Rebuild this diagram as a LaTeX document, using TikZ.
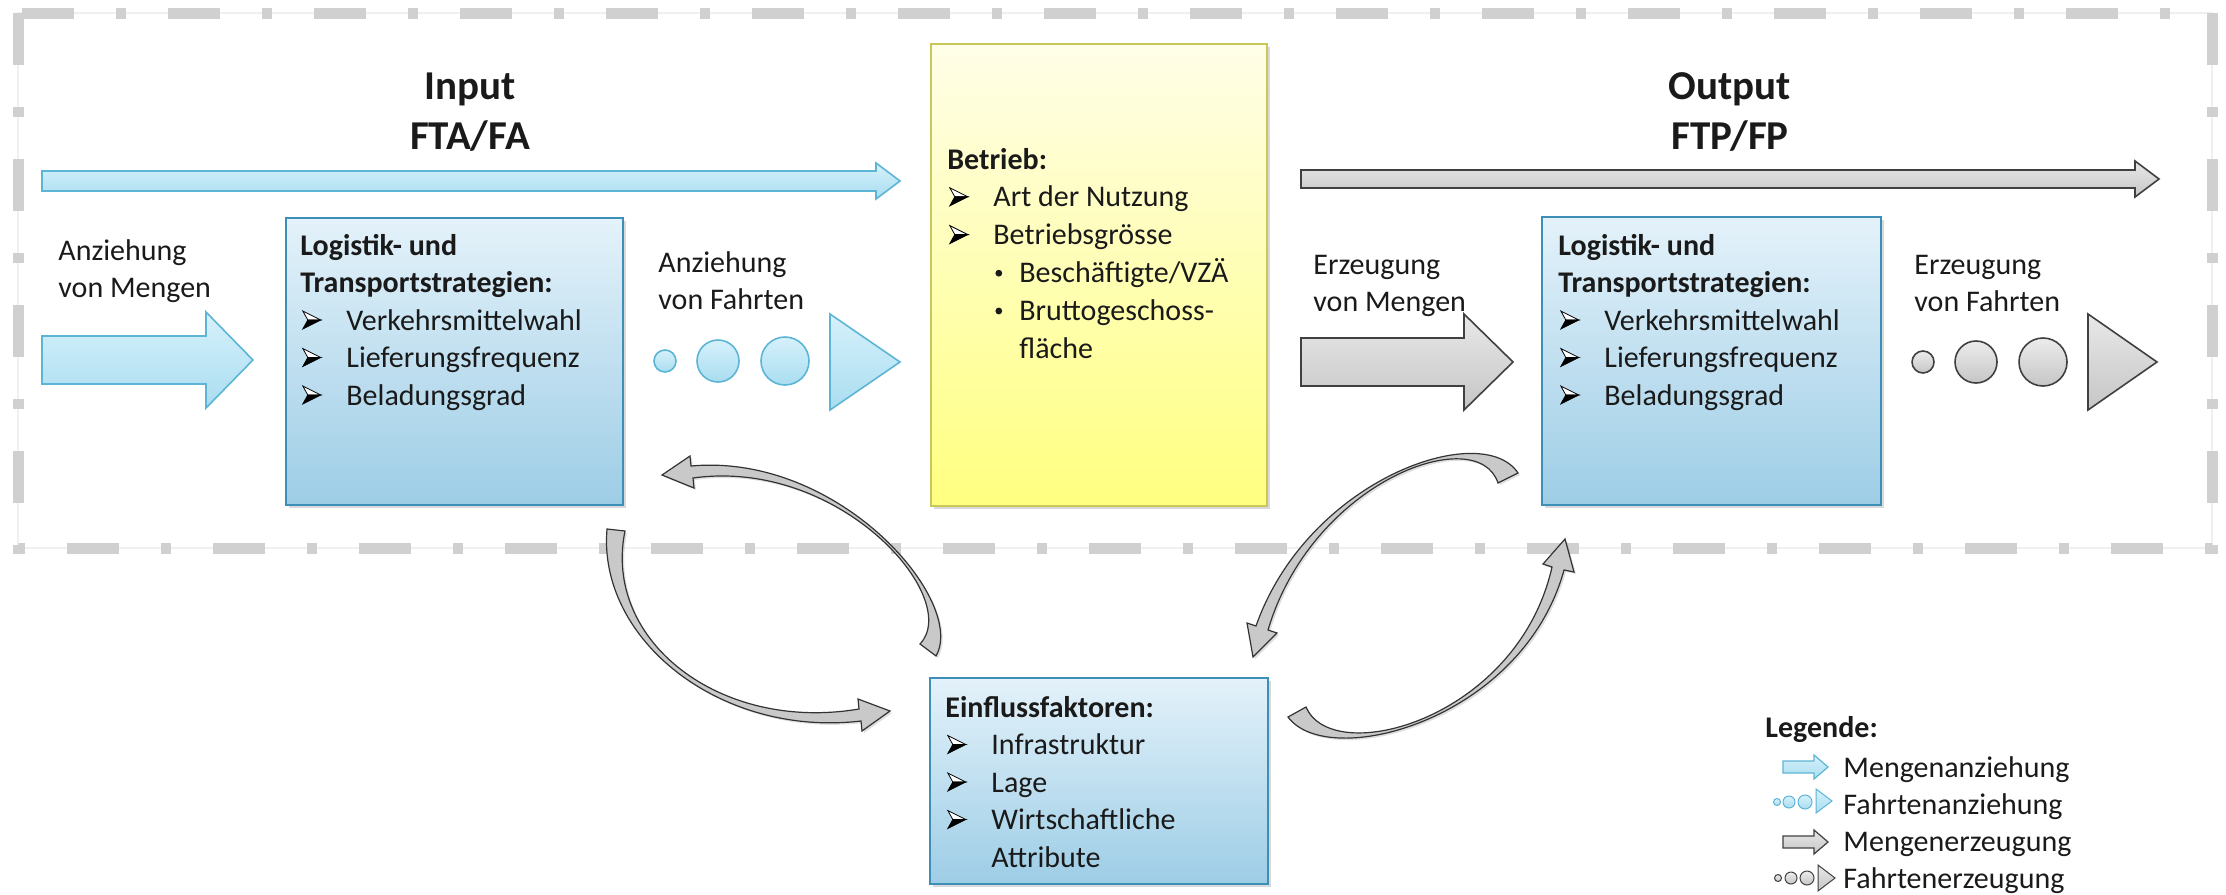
\documentclass[tikz,border=0pt]{standalone}
\usepackage{fontspec}
\setmainfont{Carlito}
\usetikzlibrary{shadows}
\definecolor{bluebd}{HTML}{3E8FB8}
\definecolor{bluetop}{HTML}{E4F2FA}
\definecolor{bluebot}{HTML}{9DCDE6}
\definecolor{arrbd}{HTML}{5DB5D6}
\definecolor{arrtop}{HTML}{D6F1FB}
\definecolor{arrbot}{HTML}{A9DDF0}
\definecolor{yeltop}{HTML}{FFFEE8}
\definecolor{yelbot}{HTML}{FFFF80}
\definecolor{yelbd}{HTML}{C9C65A}
\definecolor{dashgray}{HTML}{D0D0D0}
\definecolor{txtc}{HTML}{1A1A1A}
\newcommand{\harr}{\tikz[baseline=-5pt,x=1pt,y=1pt]{\filldraw[fill=white,draw=black,line width=0.4pt,line join=miter] (0,4.5)--(9,0)--(2.5,0)--cycle; \filldraw[black,line width=0.4pt,line join=miter] (0,-4.5)--(9,0)--(2.5,0)--cycle;}}
\newcommand{\sbul}{\tikz[baseline=-4.6pt,x=1pt,y=1pt]{\fill[txtc] (0,0) circle[radius=1.7pt];}}
\newcommand{\li}[1]{\makebox[23pt][l]{\hspace{1pt}\harr}#1}
\newcommand{\sli}[1]{\hspace{24pt}\makebox[12pt][l]{\sbul}#1}
\begin{document}
\begin{tikzpicture}[x=0.5pt,y=-0.5pt,
  box/.style={anchor=north west, inner sep=0, line width=0.8pt,
    drop shadow={shadow xshift=1.5pt, shadow yshift=-1.5pt, opacity=0.3}},
  bluebox/.style={box, draw=bluebd, top color=bluetop, bottom color=bluebot},
  yelbox/.style={box, draw=yelbd, top color=yeltop, bottom color=yelbot},
  txt/.style={anchor=base west, inner sep=0, text=txtc, font=\fontsize{15}{18.75}\selectfont},
  title/.style={anchor=base, inner sep=0, text=txtc, font=\fontsize{20.5}{25}\selectfont\bfseries},
  bluearrow/.style={draw=arrbd, line width=0.8pt, top color=arrtop, bottom color=arrbot, line join=miter},
  grayarrow/.style={draw=black!75, line width=0.8pt, top color=gray!18, bottom color=gray!45, line join=miter},
  bluedot/.style={draw=arrbd, line width=0.8pt, top color=arrtop, bottom color=arrbot},
  graydot/.style={draw=black!75, line width=0.8pt, top color=gray!15, bottom color=gray!45},
  curvarr/.style={draw=black!80, line width=0.6pt, fill=gray!42, line join=miter,
    drop shadow={shadow xshift=1pt, shadow yshift=-1pt, opacity=0.25}}]
\useasboundingbox (0,0) rectangle (2226,894);
% dashed frame
\draw[gray!12, line width=1pt] (18,13) rectangle (2212,548);
\draw[dashgray, line width=5.5pt, dash pattern=on 26pt off 21pt on 5pt off 21pt] (18,13) rectangle (2212,548);

% titles
\node[title] (tin) at (470,99) {\begin{tabular}[t]{@{}c@{}}Input\\FTA/FA\end{tabular}};
\node[title] (tout) at (1730,99) {\begin{tabular}[t]{@{}c@{}}Output\\FTP/FP\end{tabular}};

% long arrows
\draw[bluearrow] (42,171) -- (876,171) -- (876,163) -- (900,181) -- (876,199) -- (876,191) -- (42,191) -- cycle;
\draw[grayarrow] (1301,170) -- (2135,170) -- (2135,161) -- (2159,179) -- (2135,197) -- (2135,188) -- (1301,188) -- cycle;

% boxes
\node[bluebox, minimum width=168.5pt, minimum height=143.5pt] (lbox) at (285,217) {};
\node[bluebox, minimum width=169.5pt, minimum height=144pt] (rbox) at (1541,216) {};
\node[yelbox, minimum width=168pt, minimum height=231pt] (ybox) at (930,43) {};
\node[bluebox, minimum width=169pt, minimum height=103pt] (ebox) at (929,677) {};

% box texts
\node[txt] (tll) at (300,255) {\begin{tabular}[t]{@{}l@{}}\textbf{Logistik- und}\\\textbf{Transportstrategien:}\\\li{Verkehrsmittelwahl}\\\li{Lieferungsfrequenz}\\\li{Beladungsgrad}\end{tabular}};
\node[txt] (trl) at (1558,255) {\begin{tabular}[t]{@{}l@{}}\textbf{Logistik- und}\\\textbf{Transportstrategien:}\\\li{Verkehrsmittelwahl}\\\li{Lieferungsfrequenz}\\\li{Beladungsgrad}\end{tabular}};
\node[txt, font=\fontsize{15}{18.9}\selectfont] (tbe) at (947,169) {\begin{tabular}[t]{@{}l@{}}\textbf{Betrieb:}\\\li{Art der Nutzung}\\\li{Betriebsgrösse}\\\sli{Beschäftigte/VZÄ}\\\sli{Bruttogeschoss-}\\\hspace{36pt}fläche\end{tabular}};
\node[txt] (tei) at (945,717) {\begin{tabular}[t]{@{}l@{}}\textbf{Einflussfaktoren:}\\\li{Infrastruktur}\\\li{Lage}\\\li{Wirtschaftliche}\\\hspace{23pt}Attribute\end{tabular}};

% side labels
\node[txt, font=\fontsize{15}{18.5}\selectfont] (lam) at (58,260) {\begin{tabular}[t]{@{}l@{}}Anziehung\\von Mengen\end{tabular}};
\node[txt, font=\fontsize{15}{18.5}\selectfont] (laf) at (658,272) {\begin{tabular}[t]{@{}l@{}}Anziehung\\von Fahrten\end{tabular}};
\node[txt, font=\fontsize{15}{18.5}\selectfont] (lem) at (1313,274) {\begin{tabular}[t]{@{}l@{}}Erzeugung\\von Mengen\end{tabular}};
\node[txt, font=\fontsize{15}{18.5}\selectfont] (lef) at (1914,274) {\begin{tabular}[t]{@{}l@{}}Erzeugung\\von Fahrten\end{tabular}};

% big arrows
\draw[bluearrow] (42,336) -- (206,336) -- (206,312) -- (253,360) -- (206,408) -- (206,384) -- (42,384) -- cycle;
\draw[grayarrow] (1301,338) -- (1464,338) -- (1464,314) -- (1513,362) -- (1464,410) -- (1464,386) -- (1301,386) -- cycle;

% trips (blue)
\draw[bluedot] (665,361) circle[radius=11];
\draw[bluedot] (718,361) circle[radius=21];
\draw[bluedot] (785,361) circle[radius=24];
\draw[bluearrow] (830,314) -- (900,362) -- (830,410) -- cycle;
% trips (gray)
\draw[graydot] (1923,362) circle[radius=11];
\draw[graydot] (1976,362) circle[radius=21];
\draw[graydot] (2043,362) circle[radius=24];
\draw[grayarrow] (2088,314) -- (2157,362) -- (2088,410) -- cycle;

% curved arrows
\draw[curvarr] (936,656) .. controls (967,601.5) and (839.7,452.5) .. (691,466) -- (690,456) -- (662,475) -- (694,488) -- (693,478) .. controls (840.3,457.5) and (963,598.5) .. (920,644) -- cycle;
\draw[curvarr] (607,529) .. controls (597.5,639.6) and (720.4,737.5) .. (861,721) -- (862,731) -- (890,711) -- (858,699) -- (859,709) .. controls (719.6,732.5) and (602.5,640.4) .. (625,531) -- cycle;
\draw[curvarr] (1518,473) .. controls (1482.3,418.9) and (1307.6,479.2) .. (1256,626) -- (1247,623) -- (1253,657) -- (1277,633) -- (1268,630) .. controls (1312.4,480.8) and (1477.7,421.1) .. (1498,483) -- cycle;
\draw[curvarr] (1288,717) .. controls (1327.8,771.2) and (1522.4,720.6) .. (1564,570) -- (1574,572) -- (1565,539) -- (1543,564) -- (1552,567) .. controls (1517.6,719.4) and (1332.2,768.8) .. (1306,707) -- cycle;

% legend
\node[txt, font=\fontsize{15}{18.5}\selectfont\bfseries] (leg) at (1765,737) {Legende:};
\node[txt, font=\fontsize{15}{18.5}\selectfont] (legt) at (1843,777) {\begin{tabular}[t]{@{}l@{}}Mengenanziehung\\Fahrtenanziehung\\Mengenerzeugung\\Fahrtenerzeugung\end{tabular}};
\draw[bluearrow, line width=0.6pt] (1783,761) -- (1814,761) -- (1814,755) -- (1828,767) -- (1814,779) -- (1814,773) -- (1783,773) -- cycle;
\draw[bluedot, line width=0.5pt] (1777,802) circle[radius=3.5];
\draw[bluedot, line width=0.5pt] (1789,802) circle[radius=6];
\draw[bluedot, line width=0.5pt] (1805,802) circle[radius=7];
\draw[bluearrow, line width=0.5pt] (1816,789) -- (1832,801) -- (1816,813) -- cycle;
\draw[grayarrow, line width=0.6pt] (1783,836) -- (1814,836) -- (1814,830) -- (1828,842) -- (1814,854) -- (1814,848) -- (1783,848) -- cycle;
\draw[graydot, line width=0.5pt] (1778,878) circle[radius=3.5];
\draw[graydot, line width=0.5pt] (1791,878) circle[radius=6];
\draw[graydot, line width=0.5pt] (1807,878) circle[radius=7];
\draw[grayarrow, line width=0.5pt] (1818,865) -- (1835,878) -- (1818,891) -- cycle;
\end{tikzpicture}
\end{document}
